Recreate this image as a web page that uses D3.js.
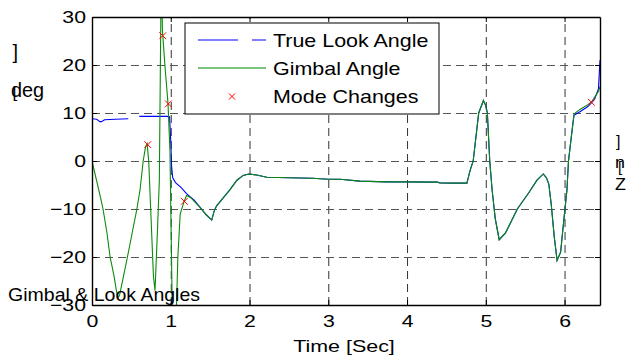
<!DOCTYPE html>
<html>
<head>
<meta charset="utf-8">
<script src="https://cdn.jsdelivr.net/npm/d3@7"></script>
<style>
  html, body { margin: 0; padding: 0; background: #fff; }
  svg { display: block; }
  text { font-family: "Liberation Sans", Arial, sans-serif; fill: #000; }
</style>
</head>
<body>
<svg id="chart" width="630" height="358"></svg>
<script>
// Time axis ticks and angle axis ticks
const xTicks = [0, 1, 2, 3, 4, 5, 6];
const yTicks = [-30, -20, -10, 0, 10, 20, 30];

// True look angle [deg] vs time [s]; null marks a gap in the record
const lookTime = [0, 0.06, 0.1, 0.12, 0.16, 0.3, 0.46, 0.5, 0.6, 0.75, 0.95, 0.985, 1.0, 1.01, 1.025, 1.06, 1.13,
  1.2, 1.3, 1.37, 1.45, 1.52, 1.55, 1.58, 1.65, 1.75, 1.84, 1.92, 1.99, 2.09, 2.22, 2.5, 2.8, 3.0, 3.15, 3.4,
  3.74, 4.0, 4.38, 4.42, 4.6, 4.76, 4.8, 4.84, 4.91, 4.97, 5.0, 5.02, 5.05, 5.08, 5.12, 5.17, 5.25, 5.4, 5.55,
  5.65, 5.73, 5.77, 5.8, 5.83, 5.87, 5.905, 5.95, 5.99, 6.03, 6.05, 6.1, 6.12, 6.2, 6.3, 6.38, 6.43, 6.44, 6.45];
const lookAngle = [8.8, 8.7, 8.2, 8.2, 8.6, 8.7, 8.8, null, 9.3, 9.3, 9.3, 9.2, 4, -1, -3.5, -4.5, -5.5,
  -6.8, -8.2, -9.6, -11.2, -12.3, -10.5, -9.4, -8, -6, -4, -3, -2.7, -2.9, -3.4, -3.5, -3.6, -3.8, -3.8, -4.2,
  -4.35, -4.35, -4.4, -4.55, -4.6, -4.6, -2, 0, 10, 12.6, 11.5, 10, 0, -6, -12, -16.4, -15, -10, -6.5,
  -4, -2.7, -3.5, -4.8, -8.9, -15.9, -20.7, -19, -12.4, -6.1, 0, 7, 9.5, 10.3, 11.4, 12.8, 15, 18, 21];

// Gimbal angle [deg] vs time [s]
const gimbalTime = [0, 0.05, 0.1, 0.14, 0.19, 0.23, 0.28, 0.31, 0.33, 0.35, 0.4, 0.45, 0.51, 0.57, 0.61, 0.65,
  0.68, 0.7, 0.72, 0.75, 0.78, 0.8, 0.83, 0.855, 0.875, 0.885, 0.895, 0.93, 0.965, 0.99, 1.005, 1.02, 1.07,
  1.09, 1.12, 1.17, 1.2, 1.25, 1.37, 1.45, 1.52, 1.55, 1.58, 1.65, 1.75, 1.84, 1.92, 1.99, 2.09, 2.22, 2.5,
  2.8, 3.0, 3.15, 3.4, 3.74, 4.0, 4.38, 4.42, 4.6, 4.76, 4.8, 4.84, 4.91, 4.97, 5.0, 5.02, 5.05, 5.08, 5.12,
  5.17, 5.25, 5.4, 5.55, 5.65, 5.73, 5.77, 5.8, 5.83, 5.87, 5.905, 5.95, 5.99, 6.03, 6.05, 6.1, 6.12, 6.2,
  6.3, 6.34, 6.43, 6.45];
const gimbalAngle = [0, -3.5, -7, -10, -15, -20, -24, -27, -28.5, -28, -24, -20, -15, -10, -6, 0,
  3, 3.6, 0, -12, -24, -27, -15, -4, 32, 34, 27, 19, 12, 2, -15, -32, -32,
  -20, -11, -8.4, -7.2, -7.6, -9.6, -11.2, -12.3, -10.5, -9.4, -8, -6, -4, -3, -2.7, -2.9, -3.4, -3.5,
  -3.6, -3.8, -3.8, -4.2, -4.35, -4.35, -4.4, -4.55, -4.6, -4.6, -2, 0, 10, 12.6, 11.5, 10, 0, -6, -12,
  -16.4, -15, -10, -6.5, -4, -2.7, -3.5, -4.8, -8.9, -15.9, -20.7, -19, -12.4, -6.1, 0, 7, 9.8, 10.8,
  11.8, 12.25, 14.5, 15.5];

// Mode change events
const modeTime = [0.708, 0.898, 0.97, 1.173, 6.34];
const modeAngle = [3.4, 26.1, 11.9, -8.4, 12.25];

// Legend entries
const legendLabels = ["True Look Angle", "Gimbal Angle", "Mode Changes"];

const svg = d3.select("#chart");
const plotLeft = 92, plotRight = 600, plotTop = 17, plotBottom = 305;

const x = d3.scaleLinear().domain([0, 6.45]).range([plotLeft, plotRight]);
const y = d3.scaleLinear().domain([-30, 30]).range([plotBottom, plotTop]);
const intFmt = d3.format("d");

// Text with the wide horizontal proportions of the figure
function label(g, px, py, str, size, sx, anchor) {
  return g.append("text")
    .attr("transform", `translate(${px},${py}) scale(${sx},1)`)
    .attr("font-size", size)
    .attr("text-anchor", anchor || "start")
    .text(str);
}

// Dashed grid
const gridX = svg.append("g")
  .attr("transform", `translate(0,${plotBottom})`)
  .call(d3.axisBottom(x).tickValues(xTicks.filter(v => v > 0)).tickSize(-(plotBottom - plotTop)).tickFormat(""));
const gridY = svg.append("g")
  .attr("transform", `translate(${plotLeft},0)`)
  .call(d3.axisLeft(y).tickValues(yTicks.filter(v => v > -30 && v < 30)).tickSize(-(plotRight - plotLeft)).tickFormat(""));
[gridX, gridY].forEach(g => {
  g.select(".domain").remove();
  g.selectAll(".tick line").attr("stroke", "#333").attr("stroke-dasharray", "8,5").attr("stroke-width", 1);
});
gridY.selectAll(".tick line").attr("stroke", "#555");

// Clip data to the plot box
svg.append("clipPath").attr("id", "plotClip")
  .append("rect").attr("x", plotLeft).attr("y", plotTop)
  .attr("width", plotRight - plotLeft).attr("height", plotBottom - plotTop);

const plot = svg.append("g").attr("clip-path", "url(#plotClip)");

const lookData = lookTime.map((t, i) => [t, lookAngle[i]]);
const gimbalData = gimbalTime.map((t, i) => [t, gimbalAngle[i]]);

const line = d3.line().defined(d => d[1] !== null).x(d => x(d[0])).y(d => y(d[1]));

plot.append("path").datum(lookData)
  .attr("fill", "none").attr("stroke", "#0000ff").attr("stroke-width", 1.1).attr("d", line);
plot.append("path").datum(gimbalData)
  .attr("fill", "none").attr("stroke", "#0b8a0b").attr("stroke-width", 1.1).attr("d", line);

// Red x markers at mode changes
const cross = d3.symbol().type(d3.symbolX).size(32);
plot.selectAll(".mode").data(modeTime.map((t, i) => [t, modeAngle[i]]))
  .join("path").attr("class", "mode")
  .attr("transform", d => `translate(${x(d[0])},${y(d[1])})`)
  .attr("d", cross)
  .attr("fill", "none").attr("stroke", "#ff0000").attr("stroke-width", 1);

// Axes with inward ticks on all four sides
const axL = svg.append("g").attr("transform", `translate(${plotLeft},0)`)
  .call(d3.axisLeft(y).tickValues(yTicks).tickFormat(intFmt).tickSizeInner(-5).tickSizeOuter(0).tickPadding(4.8));
const axB = svg.append("g").attr("transform", `translate(0,${plotBottom})`)
  .call(d3.axisBottom(x).tickValues(xTicks).tickFormat(intFmt).tickSizeInner(-5).tickSizeOuter(0).tickPadding(10));
const axR = svg.append("g").attr("transform", `translate(${plotRight},0)`)
  .call(d3.axisRight(y).tickValues(yTicks).tickSizeInner(-5).tickSizeOuter(0).tickFormat(""));
const axT = svg.append("g").attr("transform", `translate(0,${plotTop})`)
  .call(d3.axisTop(x).tickValues(xTicks).tickSizeInner(-5).tickSizeOuter(0).tickFormat(""));
[axL, axB, axR, axT].forEach(g => {
  g.select(".domain").attr("stroke", "#000").attr("stroke-width", 1.4);
  g.selectAll(".tick line").attr("stroke", "#000");
  g.selectAll("text").attr("font-size", 17).attr("font-family", "Liberation Sans, Arial, sans-serif")
    .attr("fill", "#000");
});
axL.selectAll(".tick text").attr("transform", "scale(1.25,1)");
axB.selectAll(".tick text").attr("transform", "scale(1.25,1)");

// Axis titles
const titles = svg.append("g");
label(titles, 344, 352, "Time [Sec]", 17.3, 1.24, "middle");
label(titles, 8, 300.5, "Gimbal & Look Angles", 18.6, 1.05, "start");
label(titles, 12.5, 59, "]", 20, 1, "start");
label(titles, 11, 97, "deg", 19.5, 1.02, "start");
label(titles, 12.5, 98, "[", 17, 1, "start");
label(titles, 616, 146.5, "]", 16, 1, "start");
label(titles, 615, 168, "n", 17, 1.05, "start");
label(titles, 618, 172, "[", 15, 1, "start");
label(titles, 615, 190, "Z", 17, 1.05, "start");

// Legend
const lg = svg.append("g");
lg.append("rect").attr("x", 185).attr("y", 23).attr("width", 254).attr("height", 91)
  .attr("fill", "#fff").attr("stroke", "#000").attr("stroke-width", 1);
lg.append("path").attr("d", "M198,40H238M252,40H266")
  .attr("stroke", "#0000ff").attr("stroke-width", 1.1).attr("fill", "none");
lg.append("path").attr("d", "M198,68H266")
  .attr("stroke", "#4fb04f").attr("stroke-width", 1.6).attr("fill", "none");
lg.append("path").attr("transform", "translate(232,96.5)").attr("d", d3.symbol().type(d3.symbolX).size(26)())
  .attr("fill", "none").attr("stroke", "#ff0000").attr("stroke-width", 1);
const legendY = [46.5, 75, 103.3];
legendLabels.forEach((s, i) => label(lg, 273, legendY[i], s, 18.5, 1.16, "start"));
</script>
</body>
</html>
